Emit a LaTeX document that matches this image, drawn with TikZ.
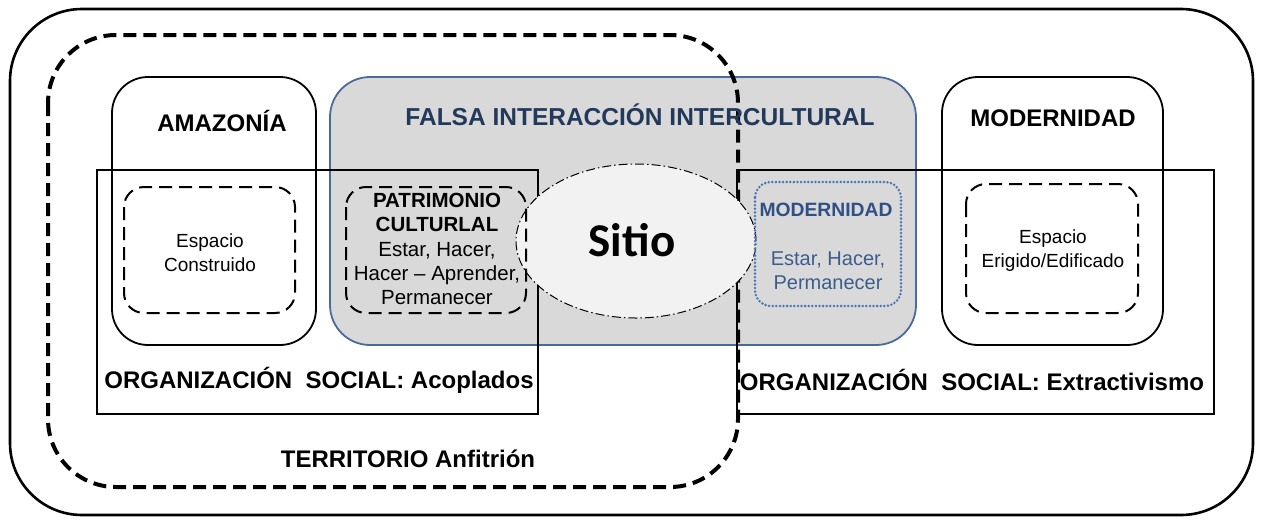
\documentclass[tikz,border=0pt]{standalone}
\usepackage{fontspec}
\setmainfont{Liberation Sans}
\newfontfamily\sitiofont{Carlito}
\usetikzlibrary{shapes.geometric}
\definecolor{grayfill}{HTML}{D9D9D9}
\definecolor{boxblue}{HTML}{4A6A9C}
\definecolor{titleblue}{HTML}{22395C}
\definecolor{dotblue}{HTML}{4A78B5}
\definecolor{textblue}{HTML}{2F4F86}
\definecolor{softblue}{HTML}{3D5C8E}
\definecolor{ellfill}{HTML}{F2F2F2}
\tikzset{
  outerframe/.style={line width=2.6pt, rounded corners=72pt},
  territory/.style={line width=4pt, dash pattern=on 13pt off 7pt, rounded corners=68pt},
  mainbox/.style={line width=1.8pt, rounded corners=36pt},
  falsabox/.style={line width=1.8pt, draw=boxblue, fill=grayfill, rounded corners=40pt},
  orgrect/.style={line width=2pt},
  innerdash/.style={line width=2pt, dash pattern=on 13pt off 7pt, rounded corners=20pt},
  dotbox/.style={line width=2.8pt, draw=dotblue, dash pattern=on 0pt off 3.6pt, line cap=round, rounded corners=16pt},
  title/.style={font=\fontsize{24}{28}\selectfont\bfseries, inner sep=0pt},
  small/.style={font=\fontsize{19}{24}\selectfont, align=center, inner sep=0pt},
}
\begin{document}
\begin{tikzpicture}[x=1pt,y=-1pt]
\useasboundingbox (0,0) rectangle (1261,520);
% outer frame
\draw[outerframe] (10,9) rectangle (1253,515);
% big boxes
\draw[mainbox] (112,77) rectangle (316,345);
\draw[falsabox] (330,77) rectangle (916,345);
\draw[mainbox] (942,77) rectangle (1163,345);
% territory dashed outline
\draw[territory] (48,35) rectangle (738,487);
% social organisation rectangles
\draw[orgrect] (97,170) rectangle (538,414);
\draw[orgrect] (737,170) rectangle (1214,414);
% Sitio ellipse
\node[ellipse, draw, fill=ellfill, line width=1pt, dash pattern=on 9pt off 3pt on 1.5pt off 3pt,
      minimum width=240pt, minimum height=154pt, inner sep=0pt] (sitio) at (636,241) {};
\node[font=\sitiofont\fontsize{47}{50}\selectfont\bfseries, inner sep=0pt] (sitiotxt) at (632,240) {Sitio};
% inner dashed boxes
\draw[innerdash] (124,187) rectangle (295,313);
\draw[innerdash] (346,187) rectangle (526,313);
\draw[innerdash] (966,184) rectangle (1138,313);
\draw[dotbox] (755,182) rectangle (901,306);
% titles
\node[title] (amaz) at (222,121) {AMAZONÍA};
\node[title, text=titleblue, font=\fontsize{24.5}{28}\selectfont\bfseries] (falsa) at (640,115) {FALSA INTERACCIÓN INTERCULTURAL};
\node[title] (moder) at (1053,118) {MODERNIDAD};
\node[title] (orgl) at (319,380) {ORGANIZACIÓN\ \ SOCIAL: Acoplados};
\node[title] (orgr) at (972,380) {ORGANIZACIÓN\ \ SOCIAL: Extractivismo};
\node[title] (terr) at (408,459) {TERRITORIO Anfitrión};
% small texts
\node[small] (espc) at (210,253) {Espacio\\Construido};
\node[small, font=\fontsize{20.5}{24.3}\selectfont] (patr) at (437,249) {\textbf{PATRIMONIO}\\\textbf{CULTURLAL}\\Estar, Hacer,\\Hacer – Aprender,\\Permanecer};
\node[small, text=textblue, font=\fontsize{19.3}{24}\selectfont\bfseries] (modin) at (826,210) {MODERNIDAD};
\node[small, text=softblue, font=\fontsize{20}{24}\selectfont] (modtx) at (828,271) {Estar, Hacer,\\Permanecer};
\node[small] (espe) at (1053,251) {Espacio\\Erigido/Edificado};
\end{tikzpicture}
\end{document}
